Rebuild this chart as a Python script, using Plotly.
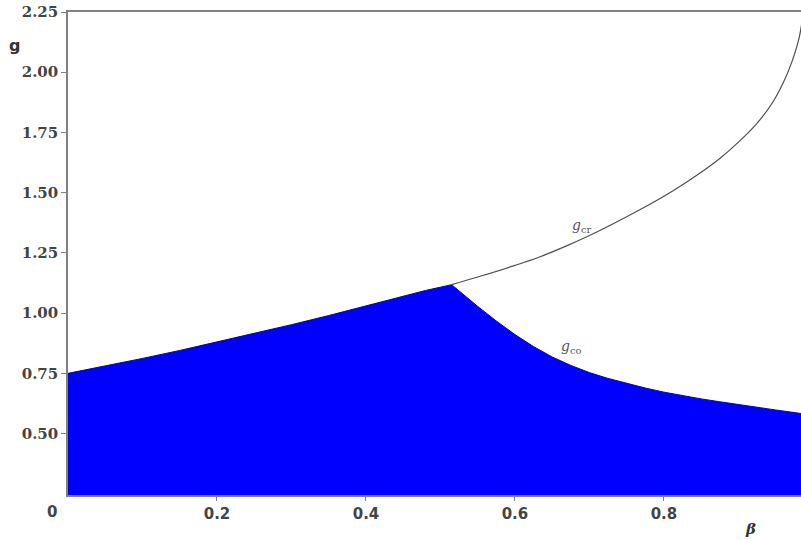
import plotly.graph_objects as go

# Lower boundary of the shaded region: rising branch then g_co branch
beta_rise = [0.0, 0.05, 0.1, 0.15, 0.2, 0.25, 0.3, 0.35, 0.4, 0.45, 0.48, 0.515]
g_rise = [0.75, 0.78, 0.812, 0.845, 0.88, 0.915, 0.952, 0.99, 1.03, 1.07, 1.094, 1.118]

beta_co = [0.515, 0.53, 0.55, 0.575, 0.6, 0.625, 0.65, 0.675, 0.7, 0.725, 0.75,
           0.775, 0.8, 0.825, 0.85, 0.875, 0.9, 0.925, 0.95, 0.985]
g_co = [1.118, 1.079, 1.028, 0.967, 0.911, 0.861, 0.818, 0.783, 0.753, 0.729, 0.708,
        0.689, 0.672, 0.657, 0.644, 0.632, 0.62, 0.609, 0.598, 0.583]

# Upper curve g_cr
beta_cr = [0.515, 0.55, 0.6, 0.633, 0.67, 0.7, 0.75, 0.8, 0.85, 0.875, 0.9,
           0.924, 0.945, 0.96, 0.972, 0.982, 0.987]
g_cr = [1.118, 1.15, 1.198, 1.233, 1.28, 1.322, 1.4, 1.485, 1.585, 1.642, 1.71,
        1.785, 1.87, 1.955, 2.045, 2.15, 2.25]

y_ticks = [0.5, 0.75, 1.0, 1.25, 1.5, 1.75, 2.0, 2.25]
y_labels = ["0.50", "0.75", "1.00", "1.25", "1.50", "1.75", "2.00", "2.25"]
x_ticks = [0.2, 0.4, 0.6, 0.8]
x_labels = ["0.2", "0.4", "0.6", "0.8"]

fig = go.Figure()

fig.add_trace(go.Scatter(
    x=beta_rise + beta_co[1:], y=g_rise + g_co[1:],
    mode="lines", fill="tozeroy", fillcolor="#0000ff",
    line=dict(color="#0000c8", width=1), hoverinfo="skip",
))
fig.add_trace(go.Scatter(
    x=beta_cr, y=g_cr, mode="lines", line_shape="spline",
    line=dict(color="#505050", width=1.2), hoverinfo="skip",
))

fig.update_layout(
    width=801, height=540,
    margin=dict(l=68, r=0, t=12, b=45),
    paper_bgcolor="white", plot_bgcolor="white",
    showlegend=False,
    xaxis=dict(
        range=[0, 0.984], tickvals=x_ticks, ticktext=x_labels,
        showgrid=False, zeroline=False, showline=True, mirror=True,
        linecolor="#808080", linewidth=1.5,
        ticks="outside", ticklen=4, tickcolor="#808080",
        tickfont=dict(family="DejaVu Sans", size=15, weight="bold", color="#444"),
    ),
    yaxis=dict(
        range=[0.245, 2.25], tickvals=y_ticks, ticktext=y_labels,
        showgrid=False, zeroline=False, showline=True,
        linecolor="#808080", linewidth=1.5,
        ticks="outside", ticklen=5, tickcolor="#808080",
        tickfont=dict(family="DejaVu Serif", size=15, weight="bold", color="#444"),
    ),
)

fig.add_annotation(x=-0.022, y=-0.035, xref="paper", yref="paper", text="0",
                   showarrow=False, xanchor="center", yanchor="middle",
                   font=dict(family="DejaVu Sans", size=15, weight="bold", color="#444"))
fig.add_annotation(x=-0.073, y=0.93, xref="paper", yref="paper", text="g",
                   showarrow=False, xanchor="center", yanchor="middle",
                   font=dict(family="DejaVu Sans", size=16, weight="bold", color="#333"))
fig.add_annotation(x=0.931, y=-0.07, xref="paper", yref="paper", text="<i>β</i>",
                   showarrow=False, xanchor="center", yanchor="middle",
                   font=dict(family="DejaVu Serif", size=15, weight="bold", color="#333"))
fig.add_annotation(x=0.69, y=1.36, text="<i>g</i><sub>cr</sub>", showarrow=False,
                   font=dict(family="DejaVu Serif", size=14, color="#555"))
fig.add_annotation(x=0.675, y=0.86, text="<i>g</i><sub>co</sub>", showarrow=False,
                   font=dict(family="DejaVu Serif", size=14, color="#555"))

fig.write_html("out.html")
